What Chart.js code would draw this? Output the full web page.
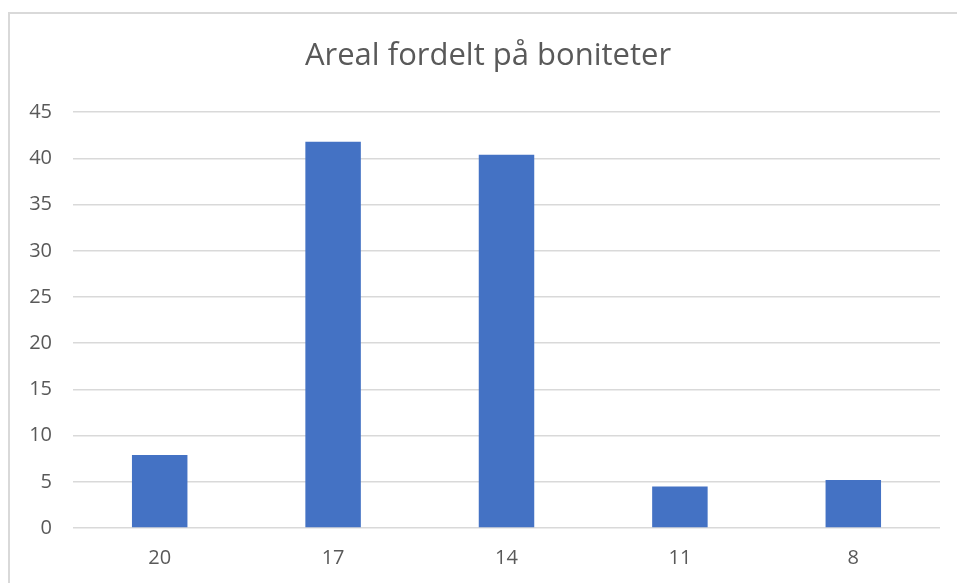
<!DOCTYPE html>
<html>
<head>
<meta charset="utf-8">
<script src="https://cdn.jsdelivr.net/npm/chart.js@4"></script>
<style>
  html, body { margin: 0; padding: 0; background: #fff; overflow: hidden; }
  #frame {
    position: absolute; left: 8px; top: 12px; width: 960px; height: 590px;
    border-left: 2px solid #d9d9d9; border-top: 2px solid #d9d9d9;
  }
  #wrap { position: absolute; left: 0; top: 0; width: 976px; height: 583px; }
</style>
</head>
<body>
<div id="frame"></div>
<div id="wrap"><canvas id="chart"></canvas></div>
<script>
// Chart data
const titleText = 'Areal fordelt på boniteter';
const categories = ['20', '17', '14', '11', '8'];
const areaValues = [7.9, 41.8, 40.4, 4.5, 5.2];
const yTicks = [0, 5, 10, 15, 20, 25, 30, 35, 40, 45];

const textColor = '#595959';
const gridColor = '#d9d9d9';

new Chart(document.getElementById('chart'), {
  type: 'bar',
  data: {
    labels: categories,
    datasets: [{
      label: 'Areal',
      data: areaValues,
      backgroundColor: '#4472c4',
      borderWidth: 0,
      categoryPercentage: 1,
      barPercentage: 0.32
    }]
  },
  options: {
    responsive: true,
    maintainAspectRatio: false,
    animation: false,
    layout: { padding: 0 },
    plugins: {
      legend: { display: false },
      tooltip: { enabled: false },
      title: {
        display: true,
        text: titleText,
        color: textColor,
        font: { family: 'Open Sans', size: 31, weight: 'normal' },
        padding: { top: 38, bottom: 37 }
      }
    },
    scales: {
      x: {
        grid: { display: false, drawTicks: false },
        border: { display: false },
        ticks: {
          color: textColor,
          font: { family: 'Open Sans', size: 20 },
          padding: 18
        },
        afterFit: scale => { scale.height = 55; }
      },
      y: {
        min: 0,
        max: 45,
        afterBuildTicks: scale => { scale.ticks = yTicks.map(v => ({ value: v })); },
        grid: { color: gridColor, lineWidth: 1.5, drawTicks: false },
        border: { display: false },
        ticks: {
          color: textColor,
          font: { family: 'Open Sans', size: 20 },
          padding: 21
        },
        afterFit: scale => { scale.width = 73; }
      },
      // empty right margin so the title centres on the whole frame
      spacer: {
        position: 'right',
        grid: { display: false, drawTicks: false },
        border: { display: false },
        ticks: { display: false },
        afterFit: scale => { scale.width = 36; }
      }
    }
  }
});
</script>
</body>
</html>
